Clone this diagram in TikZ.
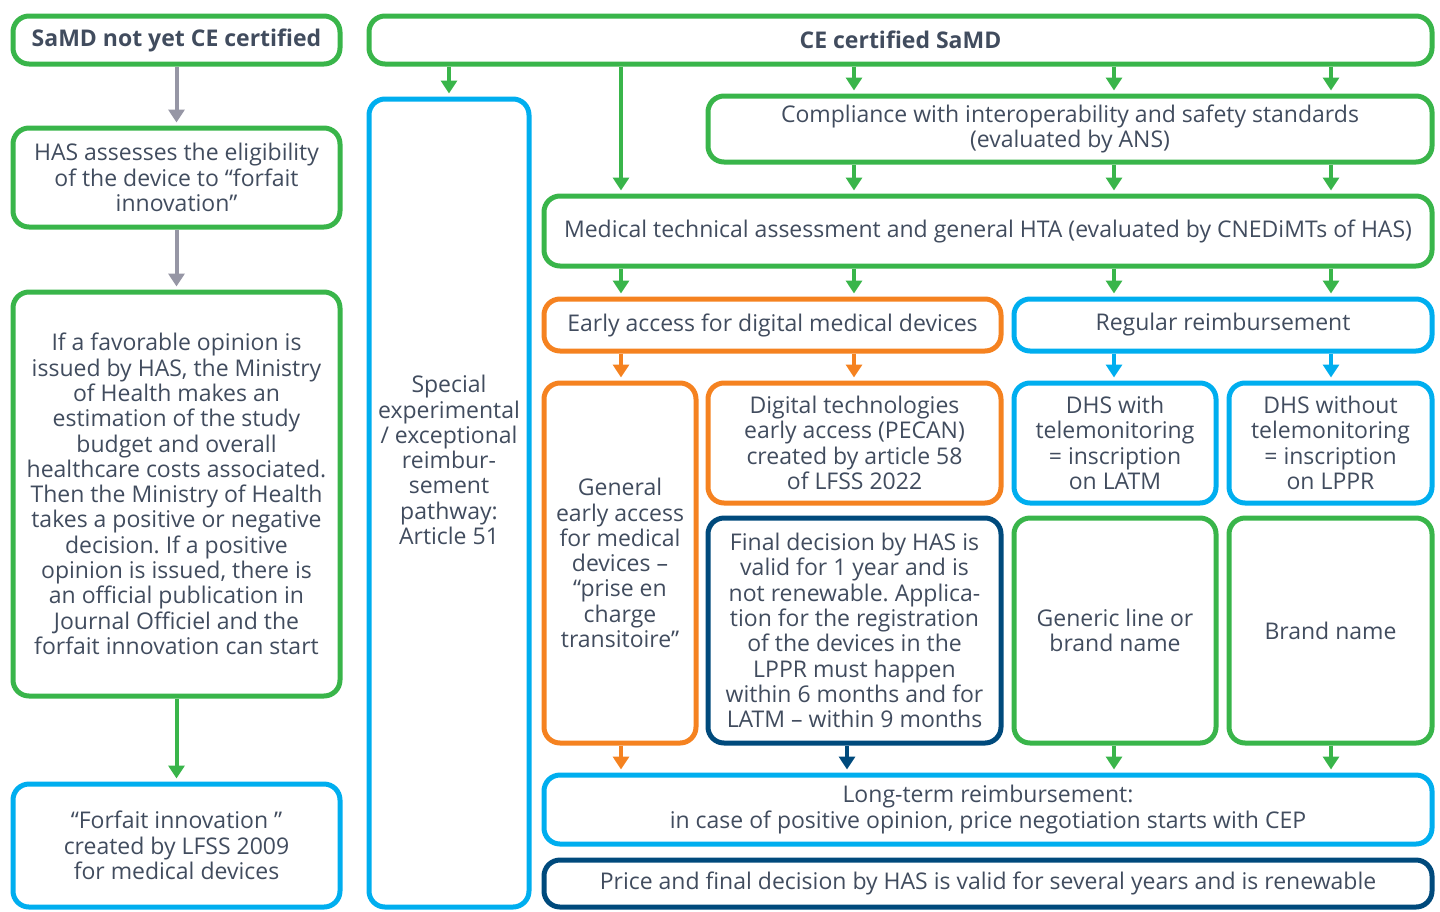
\documentclass[tikz,border=0pt]{standalone}
\usepackage{fontspec}
\setmainfont{Open Sans}
\usepackage{tikz}
\usetikzlibrary{arrows.meta}
\tikzset{>=latex}
\usepackage{xcolor}
\frenchspacing
\definecolor{samdgreen}{RGB}{57,181,74}
\definecolor{samdblue}{RGB}{0,174,239}
\definecolor{samdorange}{RGB}{245,130,32}
\definecolor{samdnavy}{RGB}{0,74,124}
\definecolor{samdgray}{RGB}{150,150,165}
\definecolor{samdtext}{RGB}{65,76,94}
\tikzstyle{stepbox}=[draw,line width=5pt,rounded corners=16pt,inner sep=0pt,
                     align=center,text=samdtext,font=\fontsize{23}{25.3}\selectfont]
\tikzstyle{greenbox}=[stepbox,draw=samdgreen]
\tikzstyle{bluebox}=[stepbox,draw=samdblue]
\tikzstyle{orangebox}=[stepbox,draw=samdorange]
\tikzstyle{navybox}=[stepbox,draw=samdnavy]
\tikzset{
  flow/.style={-{Triangle[width=16pt,length=13pt]},line width=4pt,shorten >=3pt,#1},
  flow/.default=samdgreen}

\begin{document}
\begin{tikzpicture}[x=1pt,y=-1pt]
  \useasboundingbox (0,0) rectangle (1440,911);

  % COLUMNS
  \coordinate (xA) at (621,0);
  \coordinate (xB) at (854,0);
  \coordinate (xC) at (1114,0);
  \coordinate (xD) at (1331,0);
  \coordinate (xE) at (847,0);

  % LEFT PATHWAY
  \node[greenbox,minimum width=327,minimum height=48] (notce) at (176.5,40)
    {\textbf{SaMD not yet CE certified}};
  \node[greenbox,minimum width=327,minimum height=99] (has) at (176.5,177.5)
    {HAS assesses the eligibility\\of the device to “forfait\\innovation”};
  \node[greenbox,minimum width=327,minimum height=404] (opinion) at (176.5,494)
    {If a favorable opinion is\\issued by HAS, the Ministry\\of Health makes an\\estimation of the study\\budget and overall\\healthcare costs associated.\\Then the Ministry of Health\\takes a positive or negative\\decision. If a positive\\opinion is issued, there is\\an official publication in\\Journal Officiel and the\\forfait innovation can start};
  \node[bluebox,minimum width=327,minimum height=123] (forfait) at (176.5,845.5)
    {“Forfait innovation ”\\created by LFSS 2009\\for medical devices};

  % CE CERTIFIED
  \node[greenbox,minimum width=1063,minimum height=48] (ce) at (900.5,40)
    {\textbf{CE certified SaMD}};
  \node[bluebox,minimum width=160,minimum height=808] (art51) at (449,503) {};
  \node[align=center,text=samdtext,font=\fontsize{23}{25.3}\selectfont] (art51txt) at (449,460)
    {Special\\experimental\\/ exceptional\\reimbur-\\sement\\pathway:\\Article 51};
  \node[greenbox,minimum width=724,minimum height=66] (interop) at (1070,129)
    {Compliance with interoperability and safety standards\\(evaluated by ANS)};
  \node[greenbox,minimum width=888,minimum height=70] (hta) at (988,231)
    {Medical technical assessment and general HTA (evaluated by CNEDiMTs of HAS)};

  % EARLY ACCESS
  \node[orangebox,minimum width=457,minimum height=52] (early) at (772.5,325)
    {Early access for digital medical devices};
  \node[orangebox,minimum width=152,minimum height=360] (pect) at (620,563)
    {General\\early access\\for medical\\devices –\\“prise en\\charge\\transitoire”};
  \node[orangebox,minimum width=293,minimum height=120] (pecan) at (854.5,443)
    {Digital technologies\\early access (PECAN)\\created by article 58\\of LFSS 2022};
  \node[navybox,minimum width=293,minimum height=225] (final) at (854.5,630.5)
    {Final decision by HAS is\\valid for 1 year and is\\not renewable. Applica-\\tion for the registration\\of the devices in the\\LPPR must happen\\within 6 months and for\\LATM – within 9 months};

  % REGULAR REIMBURSEMENT
  \node[bluebox,minimum width=418,minimum height=52] (regular) at (1223,325)
    {Regular reimbursement};
  \node[bluebox,minimum width=202,minimum height=120] (latm) at (1115,443)
    {DHS with\\telemonitoring\\= inscription\\on LATM};
  \node[bluebox,minimum width=203,minimum height=120] (lppr) at (1330.5,443)
    {DHS without\\telemonitoring\\= inscription\\on LPPR};
  \node[greenbox,minimum width=202,minimum height=225] (generic) at (1115,630.5)
    {Generic line or\\brand name};
  \node[greenbox,minimum width=203,minimum height=225] (brand) at (1330.5,630.5)
    {Brand name};

  % LONG TERM
  \node[bluebox,minimum width=888,minimum height=69] (longterm) at (988,809.5)
    {Long-term reimbursement:\\in case of positive opinion, price negotiation starts with CEP};
  \node[navybox,minimum width=888,minimum height=47] (renew) at (988,883.5)
    {Price and final decision by HAS is valid for several years and is renewable};

  % ARROWS
  \draw[flow=samdgray] (notce) -- (has);
  \draw[flow=samdgray] (has) -- (opinion);
  \draw[flow] (opinion) -- (forfait);
  \draw[flow] (ce.south -| art51) -- (art51);
  \draw[flow] (ce.south -| xA) -- (hta.north -| xA);
  \foreach \c in {xB,xC,xD}{
    \draw[flow] (ce.south -| \c) -- (interop.north -| \c);
    \draw[flow] (interop.south -| \c) -- (hta.north -| \c);
  }
  \foreach \c in {xA,xB}
    \draw[flow] (hta.south -| \c) -- (early.north -| \c);
  \foreach \c in {xC,xD}{
    \draw[flow] (hta.south -| \c) -- (regular.north -| \c);
    \draw[flow=samdblue] (regular.south -| \c) -- (latm.north -| \c);
  }
  \draw[flow=samdorange] (early.south -| xA) -- (pect.north -| xA);
  \draw[flow=samdorange] (early.south -| xB) -- (pecan.north -| xB);
  \draw[flow=samdorange] (pect.south -| xA) -- (longterm.north -| xA);
  \draw[flow=samdnavy] (final.south -| xE) -- (longterm.north -| xE);
  \draw[flow] (generic.south -| xC) -- (longterm.north -| xC);
  \draw[flow] (brand.south -| xD) -- (longterm.north -| xD);

\end{tikzpicture}
\end{document}
